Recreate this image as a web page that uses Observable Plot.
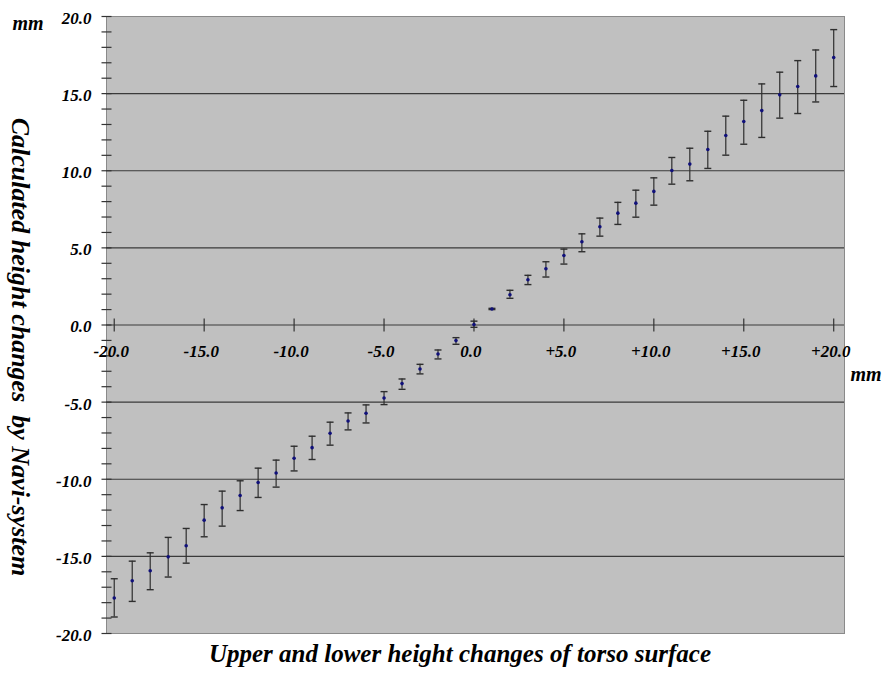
<!DOCTYPE html>
<html>
<head>
<meta charset="utf-8">
<script src="https://cdn.jsdelivr.net/npm/d3@7"></script>
<script src="https://cdn.jsdelivr.net/npm/@observablehq/plot@0.6"></script>
<style>
  html, body { margin: 0; padding: 0; background: #fff; overflow: hidden; }
  #wrap { position: relative; width: 886px; height: 677px; }
  svg text { white-space: pre; }
  #xtitle {
    position: absolute; left: 17px; top: 640px; width: 886px; text-align: center;
    font-family: "Liberation Serif", "Times New Roman", serif; font-style: italic; font-weight: bold;
    font-size: 25px; color: #000; white-space: nowrap;
  }
</style>
</head>
<body>
<div id="wrap"></div>
<script>
// ---- data ----
const xValues = [-20,-19,-18,-17,-16,-15,-14,-13,-12,-11,-10,-9,-8,-7,-6,-5,-4,-3,-2,-1,0,1,2,3,4,5,6,7,8,9,10,11,12,13,14,15,16,17,18,19,20];
const means = [-17.70,-16.58,-15.93,-15.03,-14.31,-12.65,-11.85,-11.05,-10.21,-9.59,-8.64,-7.95,-7.02,-6.22,-5.72,-4.73,-3.80,-2.85,-1.88,-1.01,0.03,1.04,1.96,2.93,3.65,4.51,5.40,6.37,7.25,7.90,8.66,10.02,10.43,11.38,12.29,13.19,13.90,14.92,15.46,16.15,17.34];
const upper = [-16.45,-15.31,-14.77,-13.77,-13.19,-11.64,-10.77,-10.10,-9.28,-8.76,-7.86,-7.21,-6.30,-5.70,-5.18,-4.32,-3.50,-2.55,-1.62,-0.82,0.25,1.08,2.25,3.22,4.10,4.92,5.91,6.93,7.95,8.74,9.54,10.86,11.46,12.56,13.54,14.57,15.63,16.39,17.14,17.83,19.15];
const lower = [-18.93,-17.92,-17.16,-16.34,-15.44,-13.73,-13.04,-12.03,-11.18,-10.51,-9.46,-8.72,-7.79,-6.80,-6.35,-5.16,-4.17,-3.17,-2.20,-1.25,-0.15,1.00,1.73,2.62,3.11,3.95,4.75,5.76,6.52,6.99,7.77,9.13,9.35,10.15,11.01,11.72,12.16,13.41,13.71,14.46,15.46];

const xTicks = [-20,-15,-10,-5,0,5,10,15,20];
const xTickLabels = ["-20.0","-15.0","-10.0","-5.0","0.0","+5.0","+10.0","+15.0","+20.0"];
const yTicks = [20,15,10,5,0,-5,-10,-15,-20];
const yTickLabels = ["20.0","15.0","10.0","5.0","0.0","-5.0","-10.0","-15.0","-20.0"];
const yGrid = [15,10,5,0,-5,-10,-15];
const yMinorTicks = [-20,-19,-18,-17,-16,-15,-14,-13,-12,-11,-10,-9,-8,-7,-6,-5,-4,-3,-2,-1,0,1,2,3,4,5,6,7,8,9,10,11,12,13,14,15,16,17,18,19,20];

const yTitle = "Calculated height changes  by Navi-system";
const xTitle = "Upper and lower height changes of torso surface";
const unit = "mm";

const rows = xValues.map((x, i) => ({x, y: means[i], hi: upper[i], lo: lower[i]}));

// custom line symbols
const capSym = {draw(ctx) { ctx.moveTo(-3.5, 0); ctx.lineTo(3.5, 0); }};
const hTickSym = {draw(ctx) { ctx.moveTo(-5, 0); ctx.lineTo(5, 0); }};
const vTickSym = {draw(ctx) { ctx.moveTo(0, -6.5); ctx.lineTo(0, 6.5); }};

const chart = Plot.plot({
  width: 886,
  height: 652,
  marginLeft: 106,
  marginRight: 42,
  marginTop: 16,
  marginBottom: 19,
  style: {fontFamily: "'Liberation Serif', 'Times New Roman', serif", fontSize: "17px", fontWeight: "bold", fontStyle: "italic", background: "transparent", color: "#000"},
  x: {domain: [-20.43, 20.6], axis: null},
  y: {domain: [-20, 20], axis: null},
  marks: [
    Plot.frame({fill: "#c0c0c0", stroke: "#8a8a8a"}),
    Plot.ruleY(yGrid, {stroke: "#3a3a3a", strokeWidth: 1.2}),
    // y axis
    Plot.axisY({ticks: yTicks, tickSize: 0, tickPadding: 15, tickFormat: (d, i) => yTickLabels[i], line: true, stroke: "#333", dy: 2, fill: "#000"}),
    Plot.dot(yMinorTicks, {y: d => d, frameAnchor: "left", symbol: hTickSym, stroke: "#333", fill: "none", strokeWidth: 1.2}),
    // x axis ticks at y = 0
    Plot.dot(xTicks, {x: d => d, y: 0, symbol: vTickSym, stroke: "#333", fill: "none", strokeWidth: 1.2}),
    Plot.text(xTicks, {x: d => d, y: 0, dy: 27, dx: -3, text: (d, i) => xTickLabels[i], fill: "#000"}),
    // error bars
    Plot.ruleX(rows, {x: "x", y1: "lo", y2: "hi", stroke: "#2e2e2e", strokeWidth: 1.2}),
    Plot.dot(rows, {x: "x", y: "hi", symbol: capSym, stroke: "#2e2e2e", fill: "none", strokeWidth: 1.4}),
    Plot.dot(rows, {x: "x", y: "lo", symbol: capSym, stroke: "#2e2e2e", fill: "none", strokeWidth: 1.4}),
    Plot.dot(rows, {x: "x", y: "y", r: 1.8, fill: "#10107a", stroke: "none"}),
    // unit labels
    Plot.text([unit], {frameAnchor: "top-left", dx: -94, dy: -1, textAnchor: "start", fontSize: 20, fill: "#000"}),
    Plot.text([unit], {frameAnchor: "right", dx: 6, dy: 50, textAnchor: "start", fontSize: 20, fill: "#000"}),
    // y title
    Plot.text([yTitle], {frameAnchor: "left", dx: -86, dy: 22, rotate: 90, textAnchor: "middle", fontSize: 26, fill: "#000"})
  ]
});
const wrap = document.getElementById("wrap");
wrap.appendChild(chart);
const t = document.createElement("div");
t.id = "xtitle";
t.textContent = xTitle;
wrap.appendChild(t);
</script>
</body>
</html>
